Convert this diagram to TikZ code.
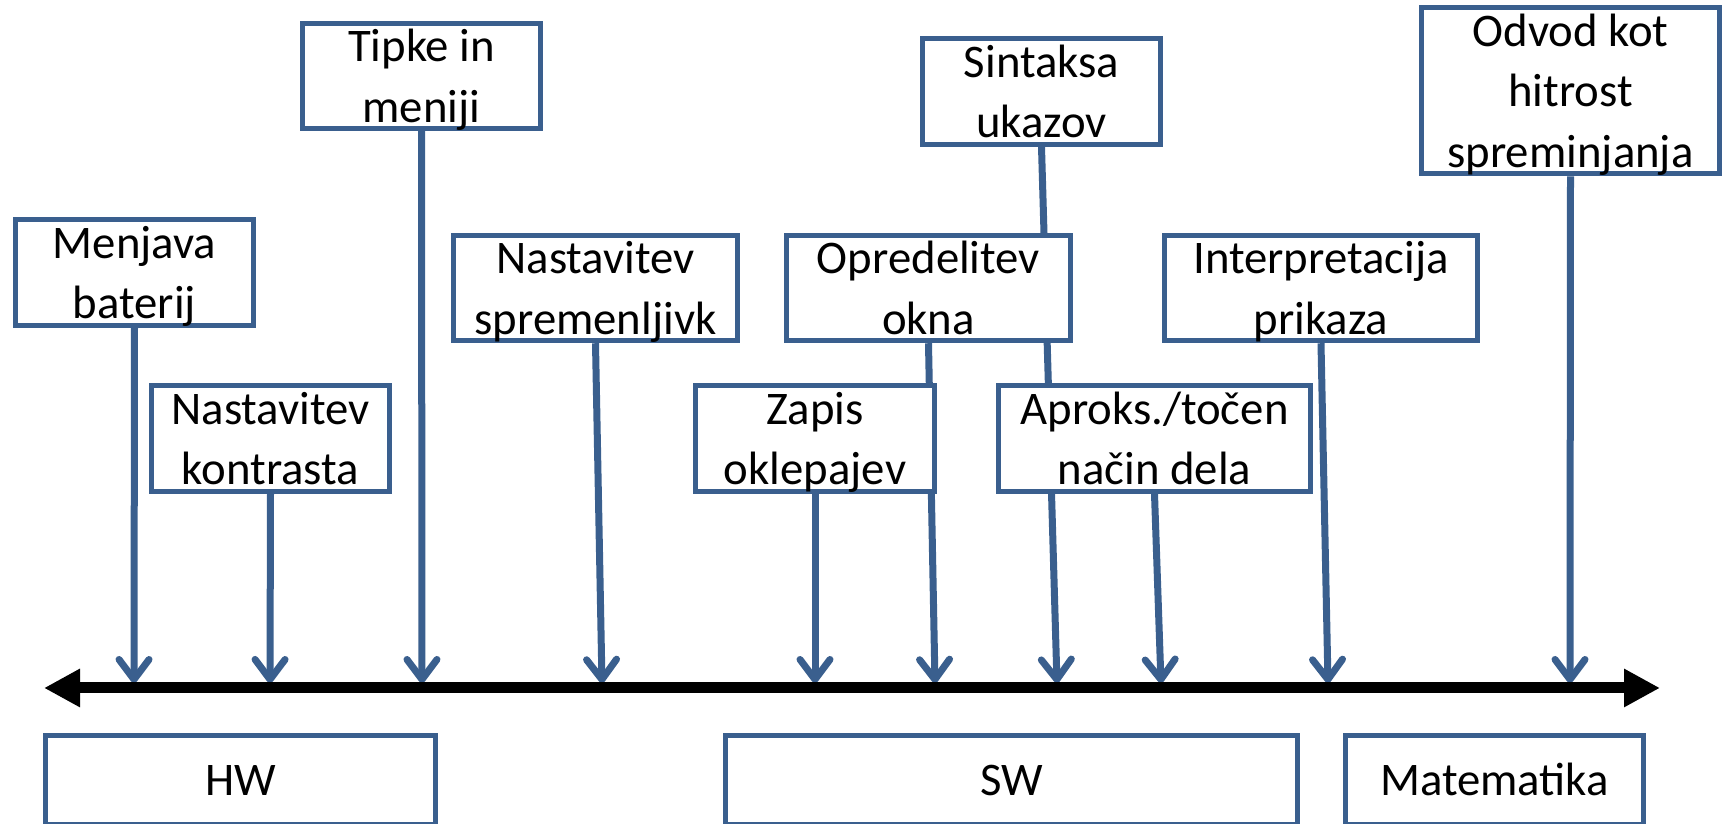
\documentclass[tikz,border=0pt]{standalone}
\usepackage{fontspec}
\setmainfont{Carlito}
\usetikzlibrary{arrows.meta,backgrounds}
\definecolor{pptblue}{RGB}{58,95,142}
\newcommand{\boxstrut}{\rule[-0.125cm]{0pt}{0.57cm}}

\begin{document}
\begin{tikzpicture}[
    topic/.style={draw=pptblue, line width=0.05cm, fill=white, align=center, inner xsep=0pt, inner ysep=-0.06cm,
        minimum height=1.02cm, font=\fontsize{13.3}{16.2}\selectfont},
    group/.style={topic, minimum height=0.89cm},
    pointer/.style={pptblue, line width=0.07cm, -{Straight Barb[length=0.2cm, width=0.3cm, round]}},
    axis/.style={black, line width=0.11cm, {Triangle[length=0.36cm, width=0.36cm]}-{Triangle[length=0.36cm, width=0.36cm]}}
  ]
    \useasboundingbox (0,0) rectangle (17.31,8.24);

    % topics above the line
    \node[topic, minimum width=2.38cm] (menjava) at (1.345,5.515) {Menjava\boxstrut\\baterij\boxstrut};
    \node[topic, minimum width=2.38cm] (tipke) at (4.215,7.48) {Tipke in\boxstrut\\meniji\boxstrut};
    \node[topic, minimum width=2.38cm] (kontrast) at (2.705,3.855) {Nastavitev\boxstrut\\kontrasta\boxstrut};
    \node[topic, minimum width=2.84cm] (spremen) at (5.955,5.36) {Nastavitev\boxstrut\\spremenljivk\boxstrut};
    \node[topic, minimum width=2.84cm] (okna) at (9.285,5.36) {Opredelitev\boxstrut\\okna\boxstrut};
    \node[topic, minimum width=2.38cm] (sintaksa) at (10.415,7.325) {Sintaksa\boxstrut\\ukazov\boxstrut};
    \node[topic, minimum width=2.39cm] (zapis) at (8.15,3.855) {Zapis\boxstrut\\oklepajev\boxstrut};
    \node[topic, minimum width=3.12cm] (aproks) at (11.545,3.855) {Aproks./točen\boxstrut\\način dela\boxstrut};
    \node[topic, minimum width=3.13cm] (interp) at (13.21,5.36) {Interpretacija\boxstrut\\prikaza\boxstrut};
    \node[topic, minimum width=2.98cm, minimum height=1.63cm] (odvod) at (15.705,7.33) {Odvod kot\boxstrut\\hitrost\boxstrut\\spreminjanja\boxstrut};

    % groups below the line
    \node[group, minimum width=3.90cm] (hw) at (2.405,0.44) {HW\boxstrut};
    \node[group, minimum width=5.72cm] (sw) at (10.115,0.44) {SW\boxstrut};
    \node[group, minimum width=2.98cm] (mat) at (14.945,0.44) {Matematika\boxstrut};

    % the line
    \coordinate (axl) at (0.44,1.36);
    \coordinate (axr) at (16.60,1.36);
    \draw[axis] (axl) -- (axr);

    % where the pointers meet the line
    \coordinate (pmenjava) at (1.34,1.41);
    \coordinate (pkontrast) at (2.70,1.41);
    \coordinate (ptipke) at (4.22,1.41);
    \coordinate (pspremen) at (6.02,1.41);
    \coordinate (pzapis) at (8.15,1.41);
    \coordinate (pokna) at (9.35,1.41);
    \coordinate (psintaksa) at (10.57,1.41);
    \coordinate (paproks) at (11.61,1.41);
    \coordinate (pinterp) at (13.28,1.41);
    \coordinate (podvod) at (15.70,1.41);

    \begin{pgfonlayer}{background}
    \draw[pointer] (menjava.south) -- (pmenjava);
    \draw[pointer] (kontrast.south) -- (pkontrast);
    \draw[pointer] (tipke.south) -- (ptipke);
    \draw[pointer] (spremen.south) -- (pspremen);
    \draw[pointer] (zapis.south) -- (pzapis);
    \draw[pointer] (okna.south) -- (pokna);
    \draw[pointer] (sintaksa.south) -- (psintaksa);
    \draw[pointer] (aproks.south) -- (paproks);
    \draw[pointer] (interp.south) -- (pinterp);
    \draw[pointer] (odvod.south) -- (podvod);
    \end{pgfonlayer}
\end{tikzpicture}
\end{document}
